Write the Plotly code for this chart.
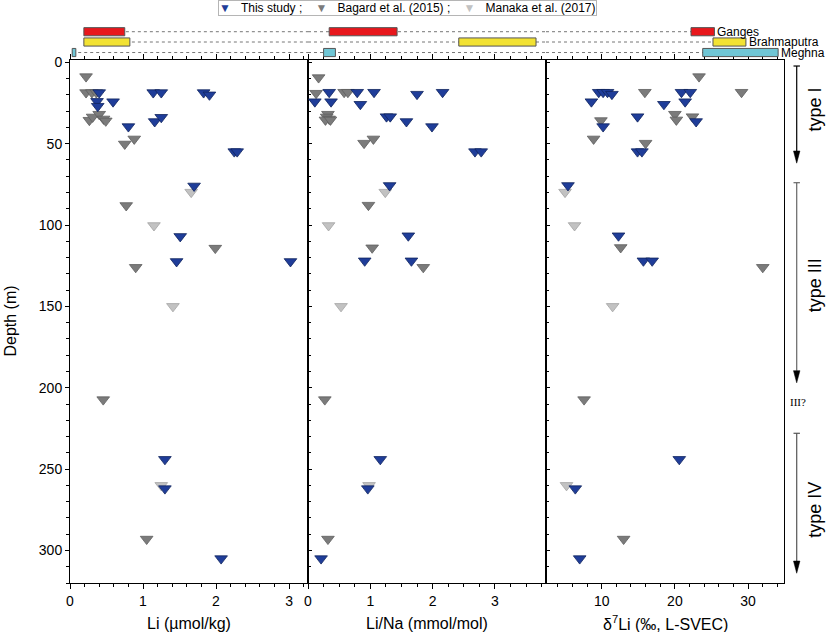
import plotly.graph_objects as go

# ---------------- data ----------------
# Panel 1: Li (umol/kg)
li_this_depth = [18.6, 24, 27, 24.2, 18.6, 18.6, 39.5, 36.4, 33.8, 18.6, 20, 54.9, 54.9, 76, 107, 122.4, 122.4, 244, 262, 305]
li_this = [0.40, 0.37, 0.38, 0.59, 1.14, 1.25, 0.80, 1.16, 1.25, 1.83, 1.91, 2.25, 2.29, 1.70, 1.51, 1.46, 3.02, 1.30, 1.30, 2.07]
li_bagard_depth = [8.8, 18.6, 18.6, 18.6, 35.6, 33.6, 31.9, 34.8, 36, 50.2, 47.1, 88, 114.2, 126, 207.3, 293]
li_bagard = [0.22, 0.22, 0.30, 0.36, 0.265, 0.31, 0.40, 0.46, 0.49, 0.75, 0.88, 0.77, 1.99, 0.90, 0.455, 1.05]
li_manaka_depth = [79.8, 100.3, 150, 260]
li_manaka = [1.66, 1.15, 1.41, 1.25]

# Panel 2: Li/Na (mmol/mol)
lina_this_depth = [18.4, 18.4, 18.4, 19.6, 18.4, 24.2, 24.2, 25.8, 33.4, 33.4, 36.4, 39.5, 54.9, 54.9, 75.7, 106.6, 122, 122, 244, 262, 305]
lina_this = [0.34, 0.79, 1.06, 1.75, 2.16, 0.11, 0.37, 0.84, 1.26, 1.32, 1.58, 1.99, 2.68, 2.78, 1.31, 1.61, 0.91, 1.66, 1.16, 0.96, 0.21]
lina_bagard_depth = [9.4, 19, 18.4, 18.4, 31.9, 33.6, 34.8, 35.4, 35.4, 49.7, 47.1, 87.8, 114, 126, 207.3, 293]
lina_bagard = [0.17, 0.13, 0.58, 0.64, 0.32, 0.30, 0.34, 0.28, 0.36, 0.90, 1.05, 0.97, 1.03, 1.85, 0.27, 0.32]
lina_manaka_depth = [79.8, 100.3, 150, 260]
lina_manaka = [1.24, 0.33, 0.53, 0.98]

# Panel 3: d7Li (permil, L-SVEC)
d7_this_depth = [18.4, 18.4, 18.4, 19.6, 18.4, 18.4, 24.2, 25.8, 24.2, 33.4, 36.4, 39.5, 54.9, 54.9, 75.7, 106.6, 122, 122, 244, 262, 305]
d7_this = [9.6, 10.2, 10.8, 11.4, 20.9, 22.1, 8.6, 18.5, 21.4, 14.9, 22.9, 10.2, 14.9, 15.5, 5.4, 12.3, 15.7, 16.9, 20.6, 6.4, 7.0]
d7_bagard_depth = [8.8, 18.4, 18.4, 31.9, 35.4, 33.4, 35.8, 47.1, 49.7, 113.8, 126, 207.3, 293]
d7_bagard = [23.3, 15.9, 29.1, 20.0, 20.2, 22.4, 9.9, 8.9, 16.0, 12.6, 32.0, 7.6, 13.0]
d7_manaka_depth = [79.8, 100.3, 150, 260]
d7_manaka = [5.0, 6.3, 11.5, 5.2]

# River ranges (min, max) for each panel: Li, Li/Na, d7Li
rivers = ["Ganges", "Brahmaputra", "Meghna"]
ganges_range = [(0.19, 0.75), (0.34, 1.43), (22.2, 25.4)]
brahmaputra_range = [(0.19, 0.82), (2.42, 3.66), (25.2, 29.7)]
meghna_range = [(0.03, 0.08), (0.25, 0.44), (23.8, 34.1)]

# Groundwater types: (label, start depth, end depth, label depth)
gw_types = [("type I", 2.3, 62, 29), ("type III", 74, 197, 137), ("type IV", 228, 314, 275)]
gw_uncertain = ("III?", 209)

x_titles = ["Li (\u00b5mol/kg)", "Li/Na (mmol/mol)", "\u03b4<sup>7</sup>Li (\u2030, L-SVEC)"]
series_names = ["This study ;", "Bagard et al. (2015) ;", "Manaka et al. (2017)"]

# ---------------- styles ----------------
FONT = "Liberation Sans, Arial, sans-serif"
styles = {
    "This study ;": dict(color="#1f3d99", line=dict(color="#10245e", width=0.8)),
    "Bagard et al. (2015) ;": dict(color="#7b7b7b", line=dict(color="#5e5e5e", width=0.8)),
    "Manaka et al. (2017)": dict(color="#c2c2c2", line=dict(color="#a3a3a3", width=0.8)),
}

panels = [
    ("x", "y", [(li_bagard, li_bagard_depth, series_names[1]), (li_manaka, li_manaka_depth, series_names[2]), (li_this, li_this_depth, series_names[0])]),
    ("x2", "y2", [(lina_bagard, lina_bagard_depth, series_names[1]), (lina_manaka, lina_manaka_depth, series_names[2]), (lina_this, lina_this_depth, series_names[0])]),
    ("x3", "y3", [(d7_bagard, d7_bagard_depth, series_names[1]), (d7_manaka, d7_manaka_depth, series_names[2]), (d7_this, d7_this_depth, series_names[0])]),
]

fig = go.Figure()
for pi, (xa, ya, series) in enumerate(panels):
    for vals, deps, name in series:
        st = styles[name]
        fig.add_trace(go.Scatter(
            x=vals, y=deps, mode="markers", name=name, xaxis=xa, yaxis=ya,
            showlegend=False,
            marker=dict(symbol="triangle-down", size=11, color=st["color"], line=st["line"]),
            cliponaxis=False,
        ))

xranges = [[0, 3.26], [0, 3.82], [2.4, 34.9]]
domains = [[0, 1/3], [1/3, 2/3], [2/3, 1]]
dticks = [1, 1, 10]
minors = [0.2, 0.25, 2]
yrange = [320, -1.4]

axis_common = dict(showline=True, linecolor="black", linewidth=1, showgrid=False, zeroline=False,
                   tickfont=dict(family=FONT, size=14, color="black"), tickcolor="black")
for i in range(3):
    key = "xaxis" if i == 0 else f"xaxis{i+1}"
    yid = "y" if i == 0 else f"y{i+1}"
    fig.layout[key] = dict(axis_common, domain=domains[i], range=xranges[i], anchor=yid,
                           dtick=dticks[i], tick0=0, ticks="outside", ticklen=5, mirror="ticks",
                           minor=dict(dtick=minors[i], tick0=0, ticks="outside", ticklen=3, tickcolor="black"))
    ykey = "yaxis" if i == 0 else f"yaxis{i+1}"
    xid = "x" if i == 0 else f"x{i+1}"
    yax = dict(axis_common, range=yrange, anchor=xid, dtick=50, tick0=0, mirror=True,
               ticks="outside" if i == 0 else "inside", ticklen=4,
               showticklabels=(i == 0),
               minor=dict(dtick=10, tick0=0, ticks="outside" if i == 0 else "inside", ticklen=3, tickcolor="black"))
    if i > 0:
        yax["matches"] = "y"
    fig.layout[ykey] = yax

shapes = []
annotations = []

# river range bars above the panels
row_centers = [1.0541, 1.0344, 1.0143]
half_h = 0.0078
bar_colors = ["#e8171c", "#f2e233", "#6fc6d5"]
all_ranges = [ganges_range, brahmaputra_range, meghna_range]
xids = ["x", "x2", "x3"]
for r, rng in enumerate(all_ranges):
    yc = row_centers[r]
    for p in range(3):
        lo = rng[p][0] if p == 0 else xranges[p][0]
        hi = rng[p][1] if p == 2 else xranges[p][1]
        shapes.append(dict(type="line", xref=xids[p], yref="paper", x0=lo, x1=hi, y0=yc, y1=yc,
                           line=dict(color="#777777", width=1, dash="dot")))
for r, rng in enumerate(all_ranges):
    yc = row_centers[r]
    for p in range(3):
        shapes.append(dict(type="rect", xref=xids[p], yref="paper", x0=rng[p][0], x1=rng[p][1],
                           y0=yc - half_h, y1=yc + half_h, fillcolor=bar_colors[r],
                           line=dict(color="#555555", width=1)))
    annotations.append(dict(xref="x3", yref="paper", x=rng[2][1], y=yc, text=rivers[r], showarrow=False,
                            xanchor="left", yanchor="middle", xshift=1,
                            font=dict(family=FONT, size=12, color="black")))

# legend box (drawn as text with coloured triangle glyphs)
NB = "\u00a0"
leg_parts = []
for name in series_names:
    leg_parts.append(f'<span style="color:{styles[name]["color"]}">\u25bc</span>{NB*3}{name}')
annotations.append(dict(xref="paper", yref="paper", x=0.4727, y=1.1147, yanchor="top", xanchor="center",
                        text=(NB * 4).join(leg_parts), showarrow=False,
                        bordercolor="#b5b5b5", borderwidth=1, borderpad=0, bgcolor="white",
                        font=dict(family=FONT, size=12, color="black")))

# groundwater type arrows on the right
ax_x = 1.0178
cap = 0.0045
head_w = 0.0045
head_len = 7.5
line_cols = ["black", "#666666", "#555555"]
for k, (lab, d0, d1, dl) in enumerate(gw_types):
    shapes.append(dict(type="line", xref="paper", yref="y", x0=ax_x, x1=ax_x, y0=d0, y1=d1 - head_len,
                       line=dict(color=line_cols[k], width=1.2)))
    shapes.append(dict(type="line", xref="paper", yref="y", x0=ax_x - cap, x1=ax_x + cap, y0=d0, y1=d0,
                       line=dict(color=line_cols[k], width=1.2)))
    shapes.append(dict(type="path", xref="paper", yref="y",
                       path=f"M {ax_x - head_w},{d1 - head_len} L {ax_x + head_w},{d1 - head_len} L {ax_x},{d1} Z",
                       fillcolor="black", line=dict(color="black", width=0.5)))
    annotations.append(dict(xref="paper", yref="y", x=1.0434, y=dl, text=lab, showarrow=False, textangle=-90,
                            xanchor="center", yanchor="middle", font=dict(family=FONT, size=18, color="black")))
annotations.append(dict(xref="paper", yref="y", x=1.0196, y=gw_uncertain[1], text=gw_uncertain[0], showarrow=False,
                        xanchor="center", yanchor="middle",
                        font=dict(family="Liberation Serif, Times New Roman, serif", size=11, color="black")))

# axis titles
for i in range(3):
    annotations.append(dict(xref="paper", yref="paper", x=(domains[i][0] + domains[i][1]) / 2, y=-0.0765,
                            text=x_titles[i], showarrow=False, xanchor="center", yanchor="middle",
                            font=dict(family=FONT, size=16, color="black")))
annotations.append(dict(xref="paper", yref="paper", x=-0.084, y=0.5, text="Depth (m)", showarrow=False,
                        textangle=-90, xanchor="center", yanchor="middle",
                        font=dict(family=FONT, size=16, color="black")))

fig.update_layout(
    width=826, height=632,
    margin=dict(l=70, r=42, t=60, b=49),
    paper_bgcolor="white", plot_bgcolor="white",
    font=dict(family=FONT, size=13, color="black"),
    shapes=shapes, annotations=annotations,
    showlegend=False,
)

fig.write_html("out.html",
               config={"displayModeBar": False},
               post_script="document.body.style.margin='0';document.body.style.padding='0';"
                           "document.body.style.overflow='hidden';")
